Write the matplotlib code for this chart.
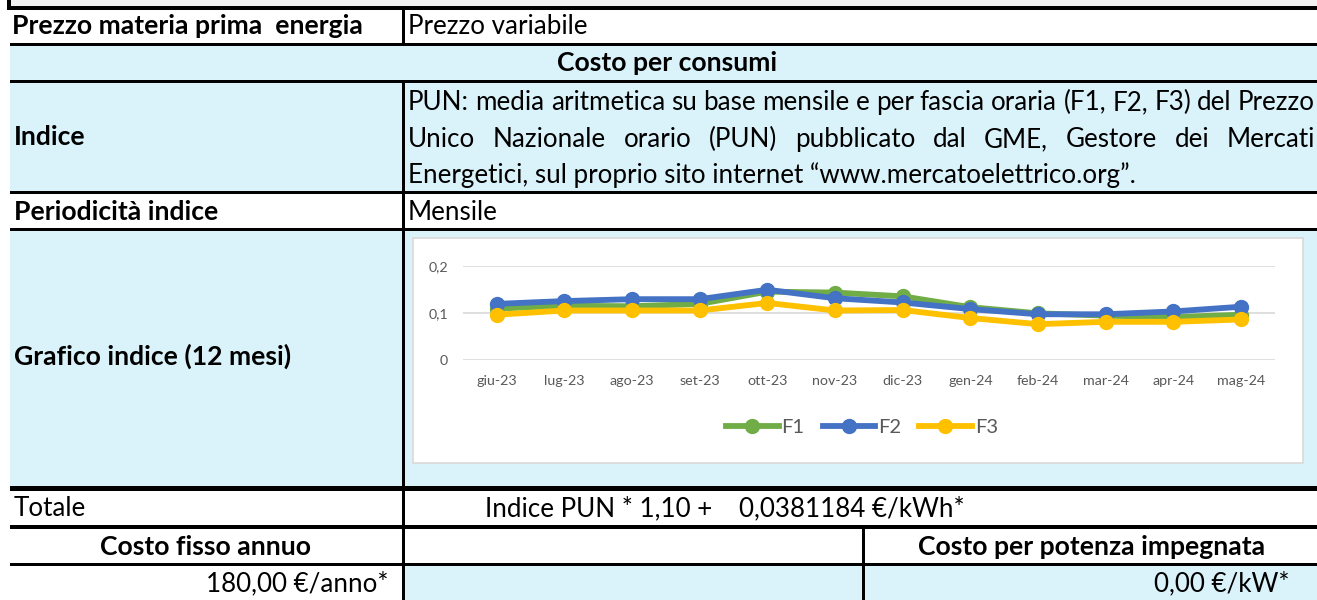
import matplotlib
matplotlib.use("Agg")
import matplotlib.pyplot as plt
from matplotlib.patches import Rectangle

# ---------------- data ----------------
months = ["giu-23", "lug-23", "ago-23", "set-23", "ott-23", "nov-23",
          "dic-23", "gen-24", "feb-24", "mar-24", "apr-24", "mag-24"]
f1 = [0.109, 0.115, 0.114, 0.119, 0.145, 0.143, 0.135, 0.112, 0.099, 0.094, 0.091, 0.096]
f2 = [0.119, 0.125, 0.129, 0.129, 0.149, 0.131, 0.122, 0.108, 0.097, 0.097, 0.103, 0.113]
f3 = [0.096, 0.105, 0.105, 0.105, 0.121, 0.105, 0.106, 0.089, 0.076, 0.081, 0.081, 0.086]
series_names = ["F1", "F2", "F3"]
y_ticks = [0, 0.1, 0.2]
y_tick_labels = ["0", "0,1", "0,2"]

indice_lines = [
    "PUN: media aritmetica su base mensile e per fascia oraria (F1, F2, F3) del Prezzo",
    "Unico Nazionale orario (PUN) pubblicato dal GME, Gestore dei Mercati",
    "Energetici, sul proprio sito internet \u201cwww.mercatoelettrico.org\u201d.",
]

# ---------------- style ----------------
FONT = ["Lato", "DejaVu Sans"]
plt.rcParams["font.family"] = FONT
LIGHT = "#DAF2FA"
BLACK = "#000000"
COLORS = ["#70AD47", "#4472C4", "#FFC000"]
GREY_TXT = "#595959"

W, H = 1317, 600
fig = plt.figure(figsize=(W / 100, H / 100), dpi=100)
fig.patch.set_facecolor("white")
tab = fig.add_axes([0, 0, 1, 1])
tab.set_xlim(0, W)
tab.set_ylim(H, 0)
tab.axis("off")
renderer = fig.canvas.get_renderer()


def text_width(s, size, weight="normal"):
    t = tab.text(0, 0, s, fontsize=size, fontweight=weight)
    w = t.get_window_extent(renderer).width
    t.remove()
    return w


REG = 10 * 729 / text_width(indice_lines[2], 10)
BOLD = 10 * 350 / text_width("Prezzo materia prima  energia", 10, "bold")


def rect(x0, x1, y0, y1, color, z=1):
    tab.add_patch(Rectangle((x0, y0), x1 - x0, y1 - y0, facecolor=color,
                            edgecolor="none", zorder=z))


# fills
rect(10, W, 0, 6, "#F2F2F2")
rect(10, W, 46, 80, LIGHT)
rect(10, W, 82, 191, LIGHT)
rect(10, W, 230, 486, LIGHT)
rect(405, W, 565, H, LIGHT)

# grid lines
for (y0, y1) in [(43, 46), (80, 82.5), (191, 193.5), (228, 230.5),
                 (486, 491), (525, 529), (562.5, 565.5)]:
    rect(10, W, y0, y1, BLACK, 3)
rect(7, W, 6, 10, BLACK, 3)
rect(7, 10.5, 0, 10, BLACK, 3)
rect(402, 405, 10, 46, BLACK, 3)
rect(402, 405, 82, H, BLACK, 3)
rect(862, 865, 529, H, BLACK, 3)

# chart area box
tab.add_patch(Rectangle((413, 238), 1302.5 - 413, 462.5 - 238, facecolor="white",
                        edgecolor="#D9D9D9", lw=1.2, zorder=2))


def txt(s, x, y, bold=False, ha="left"):
    tab.text(x, y, s, fontsize=BOLD if bold else REG,
             fontweight="bold" if bold else "normal", ha=ha, va="baseline",
             color="black", zorder=5)


txt("Prezzo materia prima  energia", 12, 33.5, bold=True)
txt("Prezzo variabile", 408, 33.5)
txt("Costo per consumi", 667, 71, bold=True, ha="center")
txt("Indice", 13.5, 145, bold=True)
txt("Periodicit\u00e0 indice", 13.5, 220, bold=True)
txt("Mensile", 408, 220)
txt("Grafico indice (12 mesi)", 13.5, 364.5, bold=True)
txt("Totale", 14, 516)
txt("Indice PUN * 1,10 +", 485, 516)
txt("0,0381184 \u20ac/kWh*", 739, 516)
txt("Costo fisso annuo", 206, 555, bold=True, ha="center")
txt("Costo per potenza impegnata", 1092, 555, bold=True, ha="center")
txt("180,00 \u20ac/anno*", 389, 591.5, ha="right")
txt("0,00 \u20ac/kW*", 1289, 591.5, ha="right")


def justified(s, x0, x1, y):
    words = s.split(" ")
    objs = [tab.text(0, y, w, fontsize=REG, va="baseline", zorder=5) for w in words]
    ws = [o.get_window_extent(renderer).width for o in objs]
    gap = (x1 - x0 - sum(ws)) / (len(words) - 1)
    x = x0
    for o, w in zip(objs, ws):
        o.set_x(x)
        x += w + gap


justified(indice_lines[0], 408, 1315, 110)
justified(indice_lines[1], 408, 1315, 147)
txt(indice_lines[2], 408, 183.5)

# ---------------- chart ----------------
px0, px1, py_top, py_bot = 462.7, 1275, 265.7, 360
ax = fig.add_axes([px0 / W, 1 - py_bot / H, (px1 - px0) / W, (py_bot - py_top) / H])
ax.patch.set_alpha(0)
xs = list(range(len(months)))
handles = []
for name, vals, c in zip(series_names, [f1, f2, f3], COLORS):
    h, = ax.plot(xs, vals, color=c, lw=4.2, marker="o", ms=10, mec=c, mfc=c,
                 label=name, solid_joinstyle="round", clip_on=False, zorder=3)
    handles.append(h)
ax.set_xlim(-0.5, len(months) - 0.5)
ax.set_ylim(y_ticks[0], y_ticks[-1])
ax.set_yticks(y_ticks)
ax.set_yticklabels(y_tick_labels)
ax.set_xticks(xs)
ax.set_xticklabels(months)
ax.tick_params(length=0, labelcolor=GREY_TXT, labelsize=10.3)
ax.tick_params(axis="y", pad=10.5)
ax.tick_params(axis="x", pad=11)
for s in ax.spines.values():
    s.set_visible(False)
ax.grid(axis="y", color="#D9D9D9", lw=1.2)
ax.set_axisbelow(True)

fig.legend(handles=handles, loc="center", bbox_to_anchor=(862 / W, 1 - 427 / H),
           ncol=3, frameon=False, fontsize=14.5, handlelength=2.6,
           handletextpad=0.15, columnspacing=0.9, labelcolor=GREY_TXT,
           borderaxespad=0, borderpad=0)

fig.savefig("out.png", dpi=100, facecolor="white")
